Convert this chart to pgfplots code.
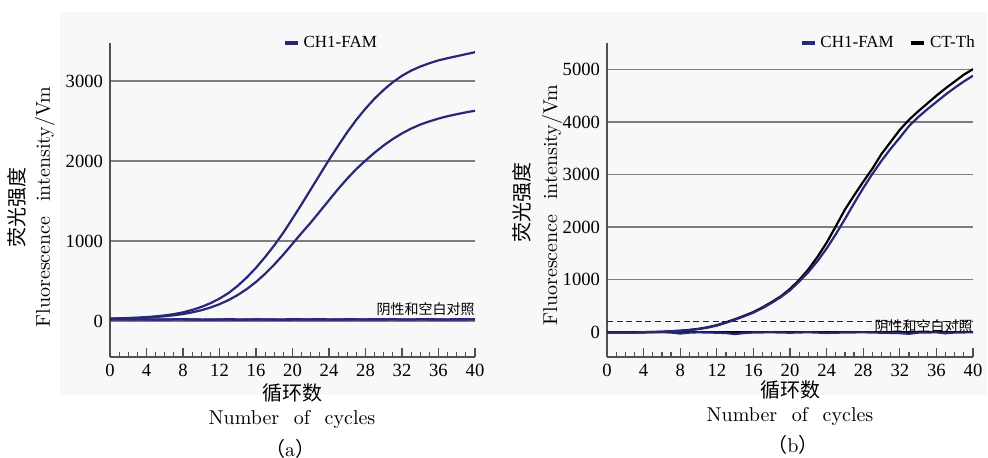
\documentclass[border=0pt]{standalone}
\usepackage{pgfplots}
\pgfplotsset{compat=1.18}
\usepackage{fontspec}
\newfontfamily\cjk{Noto Sans CJK SC}
\newfontfamily\tnr{Liberation Serif}
\definecolor{navy}{RGB}{40,40,120}
\definecolor{bg}{RGB}{248,248,248}
\definecolor{gridc}{RGB}{125,125,125}
\definecolor{axc}{RGB}{80,80,80}
\pgfplotsset{
 panel/.style={
  scale only axis, width=182.5pt, height=157pt, anchor=south west,
  xmin=0, xmax=40, axis x line=bottom, axis y line=left,
  axis line style={-, draw=axc, line width=0.8pt},
  xtick={0,4,...,40}, minor x tick num=3, tick align=inside,
  major tick length=4.5pt, minor tick length=2.3pt,
  tick style={axc, line width=0.6pt},
  ytick style={draw=none},
  ymajorgrids, grid style={gridc, line width=0.85pt},
  tick label style={font=\tnr\fontsize{9.3}{10}\selectfont},
  /pgf/number format/assume math mode=true,
  /pgf/number format/1000 sep={},
  legend style={draw=none, fill=none, font=\tnr\fontsize{8.5}{9}\selectfont, anchor=west,
    legend columns=-1, inner sep=0pt,
    /tikz/every even column/.append style={column sep=6pt}},
  legend image code/.code={\draw[#1, line width=1.6pt] (0pt,0pt) -- (6.5pt,0pt);},
 }
}
\begin{document}
\begin{tikzpicture}
\useasboundingbox (0,0) rectangle (494pt,229pt);
\fill[bg] (30pt,31.5pt) rectangle (493.5pt,223pt);
% ---------- panel (a)
\begin{axis}[panel, at={(55pt,50.5pt)}, ymin=-450, ymax=3475, ytick={0,1000,2000,3000},
  legend style={at={(0.474,1)}}]
\addlegendimage{navy}\addlegendentry{CH1-FAM}
\addplot[navy, line width=1.1pt, forget plot] coordinates {(0,30)(1,33)(2,37)(3,42)(4,49)(5,58)(6,70)(7,86)(8,108)(9,138)(10,175)(11,222)(12,280)(13,350)(14,440)(15,545)(16,665)(17,800)(18,945)(19,1105)(20,1280)(21,1460)(22,1645)(23,1830)(24,2015)(25,2190)(26,2360)(27,2515)(28,2655)(29,2780)(30,2890)(31,2985)(32,3065)(33,3130)(34,3180)(35,3222)(36,3258)(37,3285)(38,3310)(39,3335)(40,3360)};
\addplot[navy, line width=1.1pt, forget plot] coordinates {(0,28)(1,31)(2,34)(3,38)(4,43)(5,50)(6,59)(7,71)(8,87)(9,108)(10,134)(11,168)(12,210)(13,262)(14,325)(15,400)(16,488)(17,590)(18,705)(19,830)(20,965)(21,1100)(22,1230)(23,1370)(24,1510)(25,1650)(26,1780)(27,1900)(28,2005)(29,2105)(30,2195)(31,2275)(32,2345)(33,2405)(34,2455)(35,2495)(36,2530)(37,2560)(38,2585)(39,2608)(40,2628)};
\addplot[navy, line width=1.1pt, forget plot] coordinates {(0,25)(2,22)(4,20)(6,18)(8,22)(10,17)(12,20)(14,15)(16,21)(18,18)(20,22)(22,19)(24,17)(26,21)(28,20)(30,23)(32,19)(34,21)(36,18)(38,22)(40,20)};
\addplot[navy, line width=1.1pt, forget plot] coordinates {(0,18)(3,20)(5,16)(7,21)(9,19)(11,16)(13,22)(15,18)(17,20)(19,15)(21,19)(23,22)(25,18)(27,20)(29,17)(31,21)(33,19)(35,22)(37,17)(40,21)};
\node[anchor=south east, inner sep=0pt, font=\cjk\fontsize{7}{8}\selectfont] at (axis cs:40,55) {阴性和空白对照};
\end{axis}
% ---------- panel (b)
\begin{axis}[panel, at={(303.5pt,50.5pt)}, width=183pt, ymin=-476, ymax=5503, ytick={0,1000,2000,3000,4000,5000},
  legend style={at={(0.527,1)}}]
\addlegendimage{navy}\addlegendentry{CH1-FAM}
\addlegendimage{black}\addlegendentry{CT-Th}
\addplot[black, line width=0.8pt, forget plot] coordinates {(0,0)(40,0)};
\addplot[black!85, line width=0.9pt, dash pattern=on 3pt off 1.8pt, forget plot] coordinates {(0,200)(40,200)};
\addplot[navy, line width=1.1pt, forget plot] coordinates {(0,-10)(2,-12)(4,-8)(6,-5)(7,-10)(8,-30)(9,-12)(10,-6)(12,-14)(13,-20)(14,-40)(15,-20)(16,-10)(18,-6)(20,-14)(22,-5)(24,-18)(26,-10)(28,-6)(30,-14)(32,-22)(33,-35)(34,-12)(36,-6)(37,-25)(38,-10)(40,-6)};
\addplot[black, line width=1.1pt, forget plot] coordinates {(0,-5)(2,-8)(4,-3)(6,5)(8,25)(9,40)(10,60)(11,90)(12,130)(13,185)(14,245)(15,310)(16,380)(17,470)(18,570)(19,680)(20,820)(21,990)(22,1190)(23,1430)(24,1700)(25,2010)(26,2330)(27,2600)(28,2860)(29,3110)(30,3390)(31,3620)(32,3850)(33,4040)(34,4200)(35,4350)(36,4500)(37,4640)(38,4770)(39,4900)(40,5005)};
\addplot[navy, line width=1.1pt, forget plot] coordinates {(0,-8)(2,-10)(4,-5)(6,3)(8,22)(9,36)(10,55)(11,84)(12,122)(13,175)(14,235)(15,300)(16,368)(17,455)(18,555)(19,665)(20,795)(21,960)(22,1140)(23,1350)(24,1590)(25,1860)(26,2150)(27,2450)(28,2740)(29,3010)(30,3260)(31,3490)(32,3700)(33,3920)(34,4090)(35,4240)(36,4380)(37,4520)(38,4650)(39,4770)(40,4880)};
\node[anchor=east, inner sep=0pt, font=\cjk\fontsize{7}{8}\selectfont] at (axis cs:40,115) {阴性和空白对照};
\end{axis}
% ---------- labels
\node[rotate=90, font=\cjk\fontsize{10}{12}\selectfont] at (8.5pt,125pt) {荧光强度};
\node[rotate=90, font=\fontsize{10}{12}\selectfont] at (22.5pt,125.5pt) {Fluorescence\hspace{0.4em} intensity/Vm};
\node[font=\cjk\fontsize{10}{12}\selectfont] at (146pt,32.5pt) {循环数};
\node[font=\fontsize{10}{12}\selectfont] at (146pt,19pt) {Number\hspace{0.4em} of\hspace{0.4em} cycles};
\node[font=\fontsize{10}{12}\selectfont] at (145pt,4.5pt) {{\cjk （}a{\cjk ）}};
\node[rotate=90, font=\cjk\fontsize{10}{12}\selectfont] at (261pt,127.5pt) {荧光强度};
\node[rotate=90, font=\fontsize{10}{12}\selectfont] at (276pt,126.5pt) {Fluorescence\hspace{0.4em} intensity/Vm};
\node[font=\cjk\fontsize{10}{12}\selectfont] at (395pt,34pt) {循环数};
\node[font=\fontsize{10}{12}\selectfont] at (395pt,20.5pt) {Number\hspace{0.4em} of\hspace{0.4em} cycles};
\node[font=\fontsize{10}{12}\selectfont] at (396.5pt,6.5pt) {{\cjk （}b{\cjk ）}};
\end{tikzpicture}
\end{document}
